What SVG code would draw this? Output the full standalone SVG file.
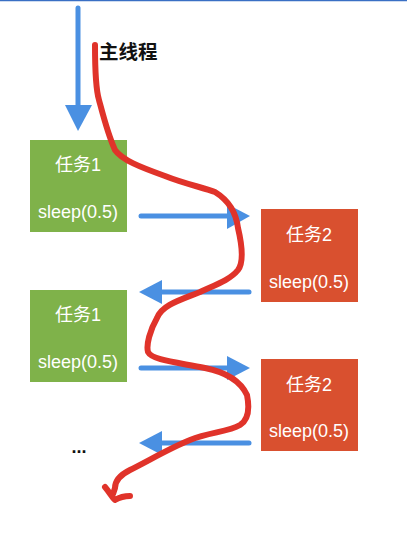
<svg xmlns="http://www.w3.org/2000/svg" width="407" height="539" viewBox="0 0 407 539">
<style>
.g{fill:#7fb24a}
.r{fill:#d9502f}
.t{font-family:"Liberation Sans","Noto Sans CJK SC",sans-serif;font-size:18px;fill:#fff;text-anchor:middle}
.bl{stroke:#4a90e2;stroke-width:5;stroke-linecap:round;fill:none}
.ah{fill:#4a90e2}
</style>
<rect x="0" y="0" width="407" height="539" fill="#fff"/>
<line x1="0" y1="0.5" x2="407" y2="0.5" stroke="#3a6fc4" stroke-width="1.5"/>
<g id="label-main">
<text x="99" y="59" font-family="'Liberation Sans','Noto Sans CJK SC',sans-serif" font-size="19.5" font-weight="bold" fill="#111">主线程</text>
</g>
<g id="task1a"><rect class="g" x="30" y="140" width="97" height="92"/><text class="t" x="78" y="171">任务1</text><text class="t" x="78" y="218">sleep(0.5)</text></g>
<g id="task1b"><rect class="g" x="30" y="290" width="97" height="92"/><text class="t" x="78" y="321">任务1</text><text class="t" x="78" y="368">sleep(0.5)</text></g>
<g id="task2a"><rect class="r" x="261" y="209" width="97" height="93"/><text class="t" x="309" y="241">任务2</text><text class="t" x="309" y="288">sleep(0.5)</text></g>
<g id="task2b"><rect class="r" x="261" y="359" width="97" height="92"/><text class="t" x="309" y="391">任务2</text><text class="t" x="309" y="437">sleep(0.5)</text></g>
<g id="ellipsis"><text x="79" y="453" font-family="'Liberation Sans',sans-serif" font-size="18" font-weight="bold" fill="#111" text-anchor="middle">...</text></g>
<g id="connectors">
<line class="bl" x1="78" y1="8" x2="78" y2="108"/>
<polygon class="ah" points="65,105 92,105 78,131"/>
<line class="bl" x1="141" y1="216" x2="228" y2="216"/>
<polygon class="ah" points="227,204 250,216 227,229"/>
<line class="bl" x1="249" y1="292" x2="162" y2="292"/>
<polygon class="ah" points="162,280 139,292 162,304"/>
<line class="bl" x1="141" y1="368" x2="228" y2="368"/>
<polygon class="ah" points="227,356 250,368 227,380"/>
<line class="bl" x1="249" y1="443" x2="162" y2="443"/>
<polygon class="ah" points="162,431 139,443 162,455"/>
<path d="M95,45 C95,70 96,90 99,100 C103,115 108,135 115,150 C122,160 140,167 165,176 C185,184 205,188 215,192 C228,200 236,212 238,228 C242,245 244,262 238,270 C230,280 215,285 200,292 C180,300 162,305 157,318 C150,330 146,345 148,352 C152,360 175,362 205,368 C225,372 240,380 247,395 C250,410 248,420 240,425 C228,432 210,432 190,440 C170,448 150,460 130,470 C118,476 115,482 115,488 L113,494 M105,487 C110,493 112,497 115,500 C120,497 126,496 130,496" fill="none" stroke="#e0332a" stroke-width="6" stroke-linecap="round" stroke-linejoin="round"/>
</g>
</svg>
